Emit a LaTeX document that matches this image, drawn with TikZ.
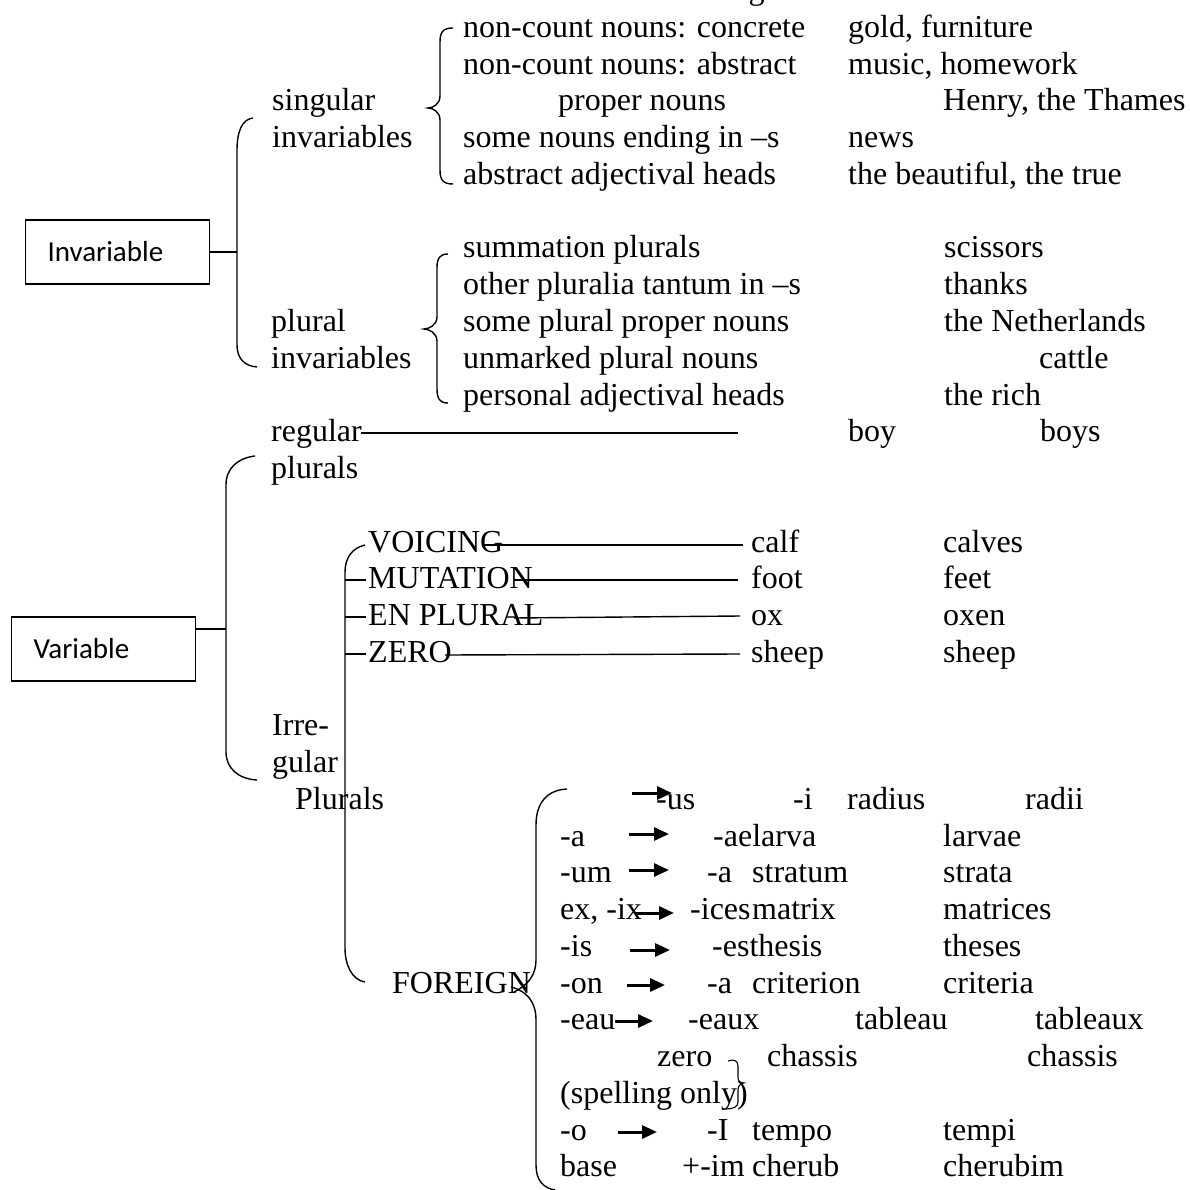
\documentclass[tikz,border=0pt]{standalone}
\usepackage{fontspec}
\setmainfont{Liberation Serif}
\newfontfamily\calibrifont{Carlito}
\usetikzlibrary{arrows.meta}
\newcommand\mybrace[6]{% #1 xend, #2 xvert, #3 xpoint, #4 ytop, #5 ymid, #6 ybot
  \draw[brk] (#1,#4) .. controls ({#2+3},#4) and (#2,{#4+4}) .. (#2,{#4+14})
    -- (#2,{#5-12}) .. controls (#2,{#5-4}) and ({#3+5},#5) .. (#3,#5)
    .. controls ({#3+5},#5) and (#2,{#5+4}) .. (#2,{#5+12})
    -- (#2,{#6-14}) .. controls (#2,{#6-4}) and ({#2+3},#6) .. (#1,#6);}
\begin{document}
\begin{tikzpicture}[x=1pt,y=-1pt,
  txt/.style={anchor=base west, inner sep=0pt, font=\fontsize{32}{36}\selectfont},
  boxnode/.style={draw, line width=1.2pt, anchor=west, text width=140pt, align=left,
     inner xsep=22pt, minimum height=64pt, font=\calibrifont\fontsize{29}{34}\selectfont},
  brk/.style={line width=1.4pt},
  conn/.style={line width=1.4pt},
  arr/.style={line width=3pt, -{Triangle[length=15pt,width=13pt]}}]
\useasboundingbox (0,0) rectangle (1189,1190);

% cut-off heading line
\node[txt] (head) at (113,0) {The classification of nouns in terms of number is given below:};

% ---------- Invariable ----------
\node[boxnode] (inv) at (25,252) {Invariable};
\coordinate (invc) at (237,252);
\draw[conn] (inv.east) -- (invc);
\draw[brk] (253,118) .. controls (243,119) and (237,130) .. (237,150) -- (237,345)
  .. controls (237,358) and (244,366) .. (257,367);

\node[txt] (sing) at (272,111) {singular};
\node[txt] (singb) at (272,147.75) {invariables};
\mybrace{453}{440}{428}{28}{108}{184}
\node[txt] (s1) at (463,37.5) {non-count nouns: concrete};
\node[txt] (s1e) at (848,37.5) {gold, furniture};
\node[txt] (s2) at (463,74.25) {non-count nouns: abstract};
\node[txt] (s2e) at (848,74.25) {music, homework};
\node[txt] (s3) at (558,111) {proper nouns};
\node[txt] (s3e) at (943,111) {Henry, the Thames};
\node[txt] (s4) at (463,147.75) {some nouns ending in –s};
\node[txt] (s4e) at (848,147.75) {news};
\node[txt] (s5) at (463,184.5) {abstract adjectival heads};
\node[txt] (s5e) at (848,184.5) {the beautiful, the true};

\node[txt] (plu) at (271,331.5) {plural};
\node[txt] (plub) at (271,368.25) {invariables};
\mybrace{448}{437}{424}{254}{329}{403}
\node[txt] (p1) at (463,258) {summation plurals};
\node[txt] (p1e) at (944,258) {scissors};
\node[txt] (p2) at (463,294.75) {other pluralia tantum in –s};
\node[txt] (p2e) at (944,294.75) {thanks};
\node[txt] (p3) at (463,331.5) {some plural proper nouns};
\node[txt] (p3e) at (944,331.5) {the Netherlands};
\node[txt] (p4) at (463,368.25) {unmarked plural nouns};
\node[txt] (p4e) at (1039,368.25) {cattle};
\node[txt] (p5) at (463,405) {personal adjectival heads};
\node[txt] (p5e) at (944,405) {the rich};

% ---------- Variable ----------
\node[boxnode] (var) at (11,649) {Variable};
\coordinate (varc) at (226,629);
\draw[conn] (var.east |- varc) -- (varc);
\draw[brk] (255,456) .. controls (238,458) and (226,468) .. (226,485) -- (226,752)
  .. controls (226,768) and (238,779) .. (257,780);

\node[txt] (reg) at (271,441.75) {regular};
\node[txt] (regb) at (271,478.5) {plurals};
\coordinate (rega) at (361,433);
\coordinate (regz) at (738,433);
\draw[conn] (rega) -- (regz);
\node[txt] (boy) at (848,441.75) {boy};
\node[txt] (boys) at (1040,441.75) {boys};

% irregular
\draw[brk] (365,545) .. controls (352,548) and (345,558) .. (345,572) -- (345,948)
  .. controls (345,965) and (352,980) .. (365,982);
\node[txt] (voi) at (368,552) {VOICING};
\node[txt] (mut) at (368,588.75) {MUTATION};
\node[txt] (enp) at (368,625.5) {EN PLURAL};
\node[txt] (zer) at (368,662.25) {ZERO};
\coordinate (t2a) at (345,580); \coordinate (t2b) at (366,580);
\coordinate (t3a) at (345,617); \coordinate (t3b) at (366,617);
\coordinate (t4a) at (345,654); \coordinate (t4b) at (366,654);
\draw[conn] (t2a) -- (t2b);
\draw[conn] (t3a) -- (t3b);
\draw[conn] (t4a) -- (t4b);
\coordinate (l1a) at (483,545); \coordinate (l1b) at (743,545);
\coordinate (l2a) at (514,580); \coordinate (l2b) at (738,580);
\coordinate (l3a) at (514,618); \coordinate (l3b) at (740,616);
\coordinate (l4a) at (445,655); \coordinate (l4b) at (740,654);
\draw[conn] (l1a) -- (l1b);
\draw[conn] (l2a) -- (l2b);
\draw[conn] (l3a) -- (l3b);
\draw[conn] (l4a) -- (l4b);
\node[txt] (calf) at (751,552) {calf};
\node[txt] (calves) at (943,552) {calves};
\node[txt] (foot) at (751,588.75) {foot};
\node[txt] (feet) at (943,588.75) {feet};
\node[txt] (ox) at (751,625.5) {ox};
\node[txt] (oxen) at (943,625.5) {oxen};
\node[txt] (sheep) at (751,662.25) {sheep};
\node[txt] (sheepb) at (943,662.25) {sheep};

\node[txt] (irr1) at (272,735.75) {Irre-};
\node[txt] (irr2) at (272,772.5) {gular};
\node[txt] (irr3) at (295,809.25) {Plurals};

% foreign
\node[txt] (for) at (392,993) {FOREIGN};
\draw[brk] (567,789) .. controls (547,790) and (536,803) .. (536,825) -- (536,960)
  .. controls (536,975) and (528,985) .. (514,992);
\draw[brk] (511,987) .. controls (527,991) and (536,1002) .. (536,1020) -- (536,1165)
  .. controls (536,1180) and (543,1188) .. (555,1190);

\node[txt] (f1b) at (656,809.25) {-us};
\node[txt] (f1c) at (793,809.25) {-i};
\node[txt] (f1d) at (847,809.25) {radius};
\node[txt] (f1e) at (1025,809.25) {radii};

\node[txt] (f2a) at (560,846) {-a};
\node[txt] (f2c) at (713,846) {-aelarva};
\node[txt] (f2e) at (943,846) {larvae};

\node[txt] (f3a) at (560,882.75) {-um};
\node[txt] (f3c) at (707,882.75) {-a};
\node[txt] (f3d) at (752,882.75) {stratum};
\node[txt] (f3e) at (943,882.75) {strata};

\node[txt] (f4a) at (560,919.5) {ex, -ix};
\node[txt] (f4c) at (690,919.5) {-ices};
\node[txt] (f4d) at (752,919.5) {matrix};
\node[txt] (f4e) at (943,919.5) {matrices};

\node[txt] (f5a) at (560,956.25) {-is};
\node[txt] (f5c) at (712,956.25) {-esthesis};
\node[txt] (f5e) at (943,956.25) {theses};

\node[txt] (f6a) at (560,993) {-on};
\node[txt] (f6c) at (707,993) {-a};
\node[txt] (f6d) at (752,993) {criterion};
\node[txt] (f6e) at (943,993) {criteria};

\node[txt] (f7a) at (560,1029.75) {-eau};
\node[txt] (f7c) at (688,1029.75) {-eaux};
\node[txt] (f7d) at (855,1029.75) {tableau};
\node[txt] (f7e) at (1035,1029.75) {tableaux};

\node[txt] (f8c) at (657,1066.5) {zero};
\node[txt] (f8d) at (767,1066.5) {chassis};
\node[txt] (f8e) at (1027,1066.5) {chassis};
\node[txt] (f9a) at (560,1103.25) {(spelling only)};
\draw[line width=1.1pt] (728,1061) .. controls (733,1059) and (738,1060) .. (738,1066) -- (738,1077)
  .. controls (738,1081) and (740,1083) .. (744,1083)
  .. controls (740,1084) and (738,1086) .. (738,1090) -- (738,1102)
  .. controls (738,1107) and (733,1109) .. (726,1109);

\node[txt] (f10a) at (560,1140) {-o};
\node[txt] (f10c) at (707,1140) {-I};
\node[txt] (f10d) at (752,1140) {tempo};
\node[txt] (f10e) at (943,1140) {tempi};

\node[txt] (f11a) at (560,1176.75) {base};
\node[txt] (f11c) at (682,1176.75) {+-im};
\node[txt] (f11d) at (752,1176.75) {cherub};
\node[txt] (f11e) at (943,1176.75) {cherubim};

% arrows
\coordinate (a1s) at (632,793);  \coordinate (a1e) at (672,793);
\coordinate (a2s) at (629,834);  \coordinate (a2e) at (669,834);
\coordinate (a3s) at (629,870);  \coordinate (a3e) at (669,870);
\coordinate (a4s) at (635,913);  \coordinate (a4e) at (674,913);
\coordinate (a5s) at (630,950);  \coordinate (a5e) at (670,950);
\coordinate (a6s) at (627,985);  \coordinate (a6e) at (665,985);
\coordinate (a7s) at (615,1021); \coordinate (a7e) at (653,1021);
\coordinate (a10s) at (618,1132); \coordinate (a10e) at (657,1132);
\draw[arr] (a1s) -- (a1e);
\draw[arr] (a2s) -- (a2e);
\draw[arr] (a3s) -- (a3e);
\draw[arr] (a4s) -- (a4e);
\draw[arr] (a5s) -- (a5e);
\draw[arr] (a6s) -- (a6e);
\draw[arr] (a7s) -- (a7e);
\draw[arr] (a10s) -- (a10e);
\end{tikzpicture}
\end{document}
